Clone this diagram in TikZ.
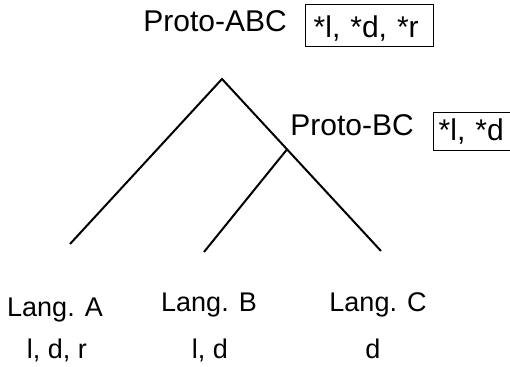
\documentclass[tikz,border=0pt]{standalone}
\usepackage{fontspec}
\setmainfont{Liberation Sans}
\usetikzlibrary{positioning,calc}
\tikzset{
    branch/.style={-,line width=1pt},
    proto/.style={font=\fontsize{15}{18}\selectfont,inner sep=0pt,anchor=base west},
    lang/.style={font=\fontsize{13.5}{16}\selectfont,inner sep=0pt,anchor=base},
    recon/.style={draw,line width=0.7pt,font=\fontsize{15}{18}\selectfont,anchor=north west,align=left,inner ysep=0pt},
}

\begin{document}
\begin{tikzpicture}[x=0.5pt,y=-0.5pt]
                \clip (0,0) rectangle (510,367);
                \coordinate (top) at (222,79);
                \coordinate (la) at (70,244);
                \coordinate (lb) at (204,252);
                \coordinate (lc) at (381,251);
                \coordinate (bc) at ($(top)!0.409!(lc)$);
                \draw[branch] (la) -- (top) -- (lc);
                \draw[branch] (bc) -- (lb);
                % reconstructed forms
                \node[proto] (pabc) at (143,32) {Proto-ABC};
                \node[recon,inner xsep=4pt,text width=56pt,text height=16.5pt,text depth=4.5pt] (rabc) at (305,4) {*l, *d, *r};
                \node[proto] (pbc) at (290,136) {Proto-BC};
                \node[recon,inner xsep=2.5pt,text width=34.5pt,text height=14pt,text depth=5pt] (rbc) at (433,112) {*l, *d};
                % daughter languages
                \node[lang] (langA) at (55,317) {Lang. A};
                \node[lang] (langB) at (209,312) {Lang. B};
                \node[lang] (langC) at (378,312) {Lang. C};
                \node[lang] (formA) at (57,359) {l, d, r};
                \node[lang] (formB) at (210,359) {l, d};
                \node[lang] (formC) at (373,359) {d};
            \end{tikzpicture}
\end{document}
